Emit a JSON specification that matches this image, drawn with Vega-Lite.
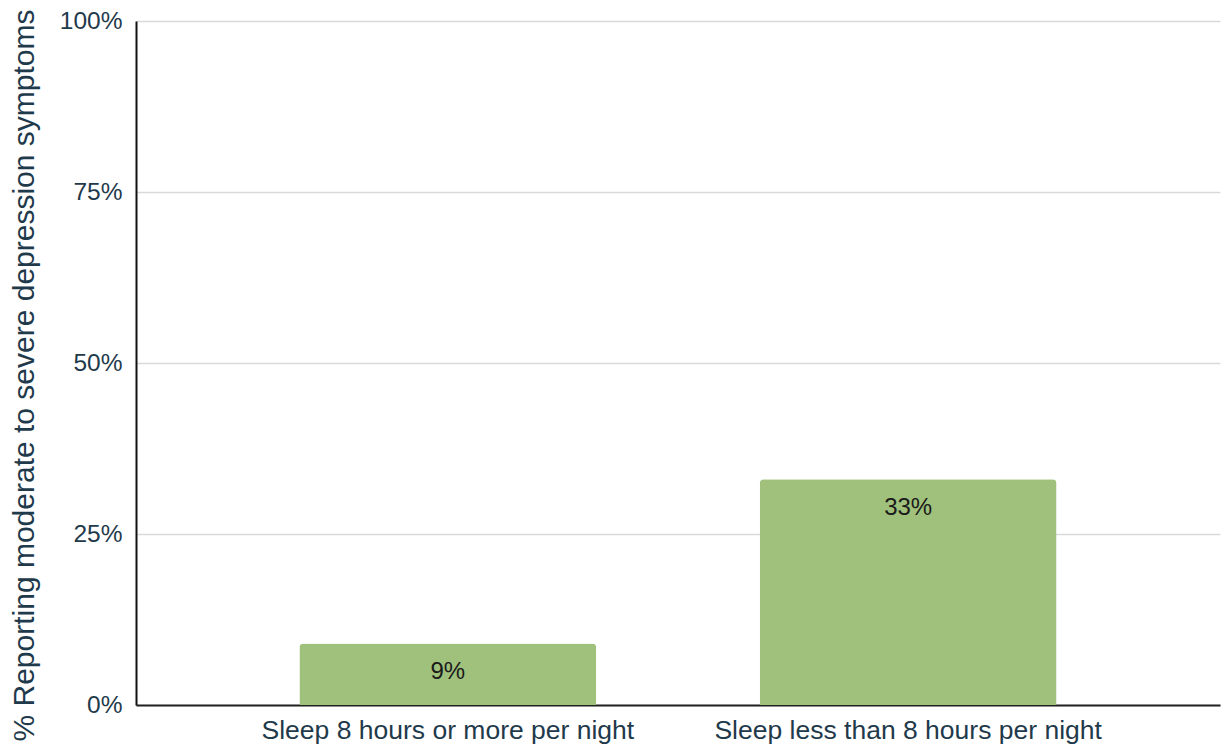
{
  "$schema": "https://vega.github.io/schema/vega-lite/v6.json",
  "autosize": "none",
  "width": 1084,
  "height": 684,
  "padding": {"left": 136, "top": 21, "right": 3, "bottom": 43},
  "background": "white",
  "config": {
    "view": {"stroke": null},
    "font": "Liberation Sans"
  },
  "data": {
    "values": [
      {"group": "Sleep 8 hours or more per night", "share": 0.09},
      {"group": "Sleep less than 8 hours per night", "share": 0.33}
    ]
  },
  "encoding": {
    "x": {
      "field": "group",
      "type": "nominal",
      "sort": null,
      "scale": {"paddingInner": 0.355, "paddingOuter": 0.355},
      "axis": {
        "title": null,
        "labelAngle": 0,
        "labelFontSize": 26.5,
        "labelLimit": 0,
        "labelColor": "#1f3a4b",
        "labelPadding": 12,
        "ticks": false,
        "domainColor": "#222222",
        "domainWidth": 2
      }
    },
    "y": {
      "field": "share",
      "type": "quantitative",
      "scale": {"domain": [0, 1]},
      "axis": {
        "title": "% Reporting moderate to severe depression symptoms",
        "titleFontSize": 30,
        "titleFontWeight": "normal",
        "titleColor": "#1f3a4b",
        "titleX": -97,
        "titleY": 354,
        "titleAlign": "center",
        "values": [0, 0.25, 0.5, 0.75, 1],
        "format": ".0%",
        "labelFontSize": 24.5,
        "labelColor": "#1f3a4b",
        "labelPadding": 14,
        "ticks": false,
        "domainColor": "#111111",
        "domainWidth": 2,
        "gridColor": "#d9d9d9",
        "gridWidth": 1.5
      }
    }
  },
  "layer": [
    {
      "mark": {"type": "bar", "color": "#a0c17c", "cornerRadiusTopLeft": 4, "cornerRadiusTopRight": 4}
    },
    {
      "mark": {"type": "text", "baseline": "top", "dy": 17, "fontSize": 24, "color": "#1a1a1a"},
      "encoding": {
        "text": {"field": "share", "type": "quantitative", "format": ".0%"}
      }
    }
  ]
}
